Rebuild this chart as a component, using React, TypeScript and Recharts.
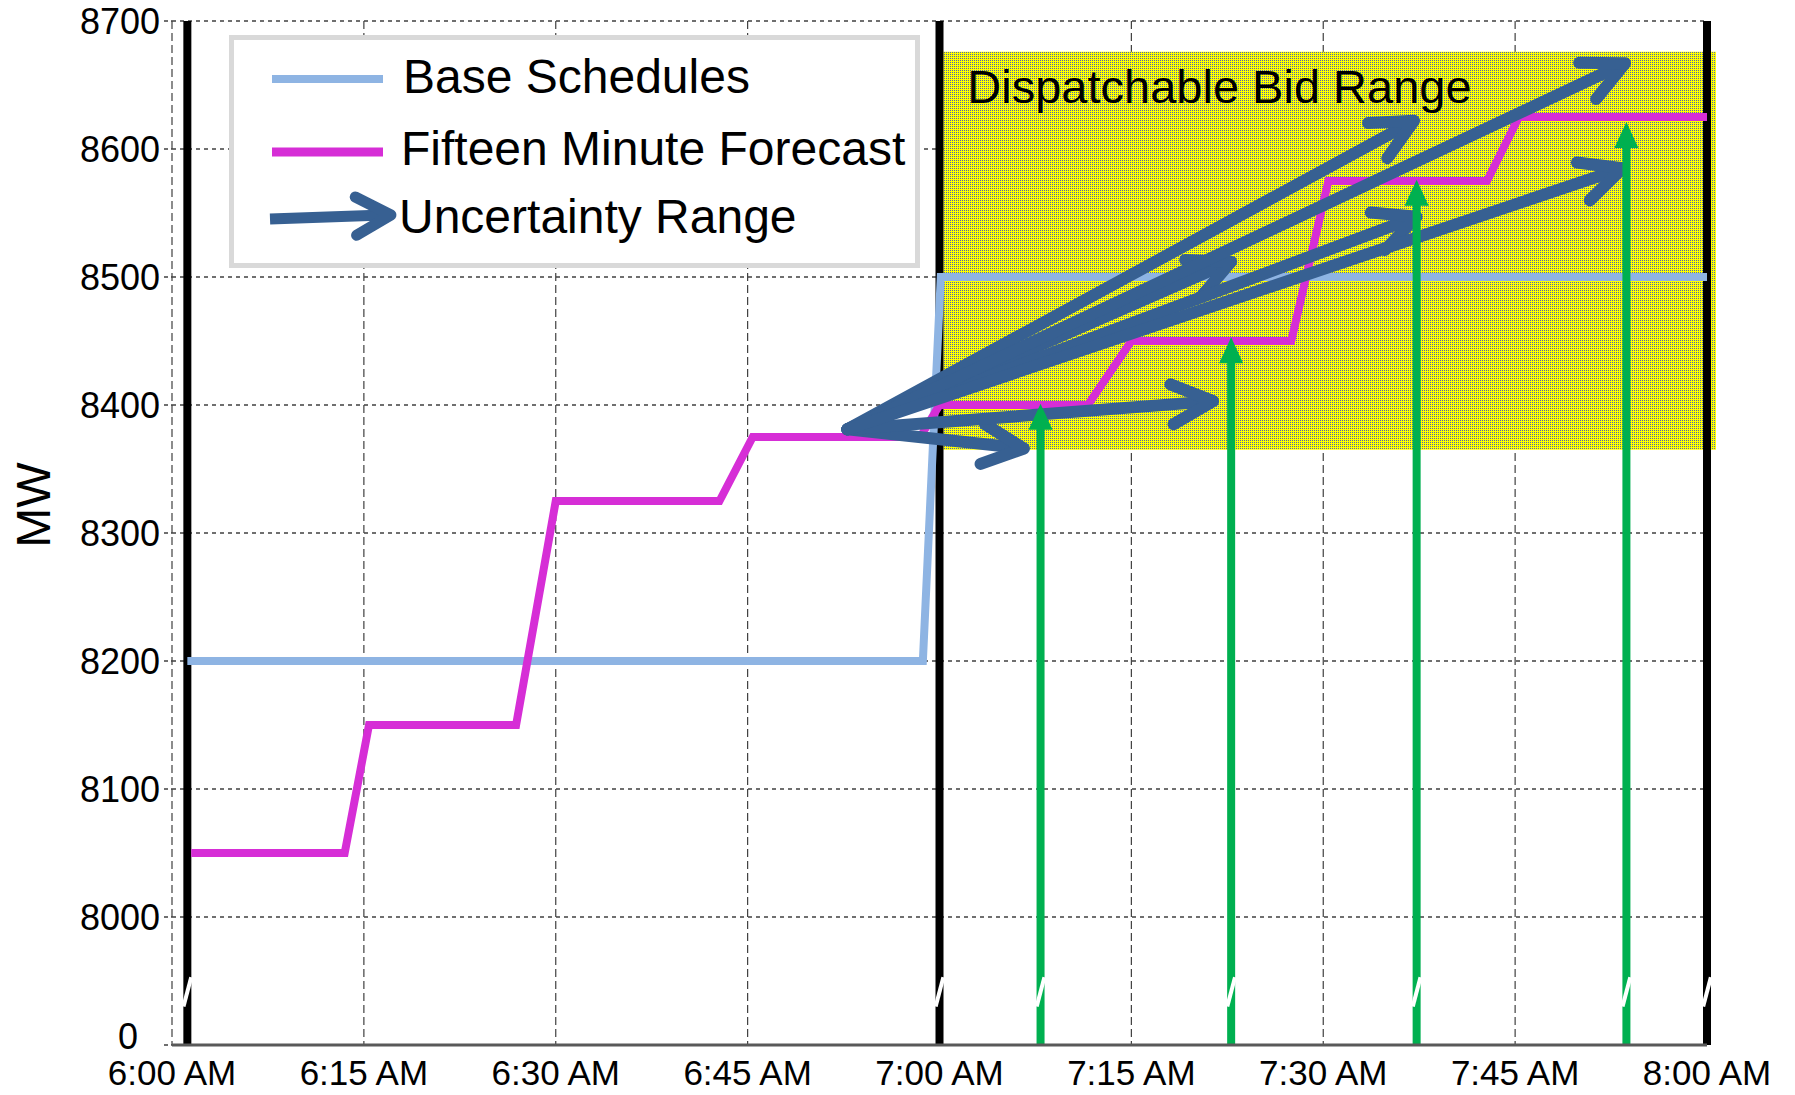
import React from "react";
import {
  CartesianGrid,
  ComposedChart,
  Label,
  Legend,
  Line,
  ReferenceArea,
  ReferenceLine,
  XAxis,
  YAxis,
} from "recharts";

// x values are minutes after 6:00 AM
const timeTicks = [0, 15, 30, 45, 60, 75, 90, 105, 120];
const timeLabels = ["6:00 AM", "6:15 AM", "6:30 AM", "6:45 AM", "7:00 AM", "7:15 AM", "7:30 AM", "7:45 AM", "8:00 AM"];

// the axis is broken: the bottom slot (7900) is labelled 0
const mwTicks = [7900, 8000, 8100, 8200, 8300, 8400, 8500, 8600, 8700];
const mwLabels = ["0", "8000", "8100", "8200", "8300", "8400", "8500", "8600", "8700"];
const axisFloor = 7900;
const breakMW = [7930, 7953];

const baseMinutes = [1.2, 58.7, 60.1, 120];
const baseMW = [8200, 8200, 8500, 8500];

const forecastMinutes = [1.5, 13.5, 15.4, 26.9, 30, 42.8, 45.4, 58.5, 60, 71.6, 75, 87.5, 90.4, 102.8, 105.3, 120];
const forecastMW = [8050, 8050, 8150, 8150, 8325, 8325, 8375, 8375, 8400, 8400, 8450, 8450, 8575, 8575, 8625, 8625];

const uncertaintyStart = { t: 52.8, mw: 8381 };
const uncertaintyTipMinutes = [66.6, 81.4, 82.8, 97.1, 97.3, 113.6, 113.4];
const uncertaintyTipMW = [8366, 8403, 8512, 8622, 8547, 8667, 8585];

const dispatchMinutes = [67.9, 82.8, 97.3, 113.7];
const dispatchMW = [8401, 8453, 8576, 8621];

const hourMarks = [1.2, 60, 120];
const bidRange = { t1: 60.3, t2: 120.7, low: 8365, high: 8676 };

const BASE = "#8EB4E3";
const FORECAST = "#D62ED6";
const ARROW = "#376092";
const GREEN = "#00B050";
const FONT = "'Liberation Sans', Arial, sans-serif";

const baseData = baseMinutes.map((t, i) => ({ t, mw: baseMW[i] }));
const forecastData = forecastMinutes.map((t, i) => ({ t, mw: forecastMW[i] }));

function chevron(x1: number, y1: number, x2: number, y2: number, len: number, spread: number) {
  const a = Math.atan2(y2 - y1, x2 - x1);
  const p1 = `${x2 - len * Math.cos(a - spread)},${y2 - len * Math.sin(a - spread)}`;
  const p2 = `${x2 - len * Math.cos(a + spread)},${y2 - len * Math.sin(a + spread)}`;
  return `${p1} ${x2},${y2} ${p2}`;
}

function UncertaintyArrow(props: any) {
  const { x1, y1, x2, y2 } = props;
  const a = Math.atan2(y2 - y1, x2 - x1);
  return (
    <g>
      <line
        x1={x1}
        y1={y1}
        x2={x2 - 6 * Math.cos(a)}
        y2={y2 - 6 * Math.sin(a)}
        stroke={ARROW}
        strokeWidth={12}
        strokeLinecap="round"
      />
      <polyline
        points={chevron(x1, y1, x2, y2, 46, 0.45)}
        fill="none"
        stroke={ARROW}
        strokeWidth={12}
        strokeLinecap="round"
        strokeLinejoin="round"
      />
    </g>
  );
}

function DispatchArrow(props: any) {
  const { x1, y1, x2, y2 } = props;
  const head = 26;
  const half = 12;
  return (
    <g>
      <line x1={x1} y1={y1} x2={x2} y2={y2 + head - 2} stroke={GREEN} strokeWidth={8} />
      <polygon points={`${x2},${y2} ${x2 - half},${y2 + head} ${x2 + half},${y2 + head}`} fill={GREEN} />
    </g>
  );
}

function MwTick(props: any) {
  const { x, y, payload } = props;
  const floor = payload.value === axisFloor;
  return (
    <text
      x={x - (floor ? 22 : 0)}
      y={y - (floor ? 9 : 0)}
      dy="0.355em"
      textAnchor="end"
      fontSize={36}
      fill="#000"
    >
      {mwLabels[mwTicks.indexOf(payload.value)]}
    </text>
  );
}

function BidLabel(props: any) {
  const { viewBox } = props;
  return (
    <text x={viewBox.x + 24} y={viewBox.y + 51} fontSize={47} fill="#000">
      Dispatchable Bid Range
    </text>
  );
}

function AxisTitle() {
  return (
    <text x={50} y={505} transform="rotate(-90 50 505)" textAnchor="middle" fontSize={48} fill="#000">
      MW
    </text>
  );
}

function LegendBox() {
  return (
    <div
      style={{
        width: 691,
        height: 233,
        boxSizing: "border-box",
        border: "5px solid #D9D9D9",
        background: "#fff",
        fontFamily: FONT,
      }}
    >
      <svg width={681} height={223} style={{ display: "block" }}>
        <line x1={38} y1={39} x2={149} y2={39} stroke={BASE} strokeWidth={8} />
        <text x={169} y={53} fontSize={48} fill="#000">
          Base Schedules
        </text>
        <line x1={38} y1={112} x2={149} y2={112} stroke={FORECAST} strokeWidth={9} />
        <text x={167} y={125} fontSize={48} fill="#000">
          Fifteen Minute Forecast
        </text>
        <line x1={36} y1={179} x2={150} y2={175} stroke={ARROW} strokeWidth={11} />
        <polyline
          points={chevron(36, 179, 157, 175, 40, 0.5)}
          fill="none"
          stroke={ARROW}
          strokeWidth={11}
          strokeLinecap="round"
          strokeLinejoin="round"
        />
        <text x={165} y={193} fontSize={48} fill="#000">
          Uncertainty Range
        </text>
      </svg>
    </div>
  );
}

const breakXs = [...hourMarks, ...dispatchMinutes];

export default function App() {
  return (
    <div
      style={{
        position: "absolute",
        left: 0,
        top: 0,
        width: 1795,
        height: 1095,
        background: "#fff",
        fontFamily: FONT,
      }}
    >
      <svg width={0} height={0} style={{ position: "absolute" }}>
        <defs>
          <pattern id="bidHatch" width={2} height={2} patternUnits="userSpaceOnUse">
            <rect width={2} height={2} fill="#FFFF00" />
            <rect width={1} height={1} fill="#4A6DB0" />
          </pattern>
        </defs>
      </svg>
      <ComposedChart width={1795} height={1095} margin={{ top: 21, right: 88, bottom: 0, left: 0 }}>
        <CartesianGrid horizontal={false} stroke="#404040" strokeWidth={1.2} strokeDasharray="8 4" />
        <CartesianGrid vertical={false} stroke="#404040" strokeWidth={1.6} strokeDasharray="4 4" />
        <XAxis
          type="number"
          dataKey="t"
          domain={[0, 120]}
          ticks={timeTicks}
          interval={0}
          height={50}
          axisLine={{ stroke: "#595959", strokeWidth: 3 }}
          tickLine={false}
          tickSize={0}
          tickMargin={15}
          tick={{ fontSize: 35, fill: "#000" }}
          tickFormatter={(v: number) => timeLabels[timeTicks.indexOf(v)]}
          allowDataOverflow
        />
        <YAxis
          type="number"
          dataKey="mw"
          domain={[axisFloor, 8700]}
          ticks={mwTicks}
          interval={0}
          width={172}
          axisLine={false}
          tickLine={{ stroke: "#404040", strokeDasharray: "4 3", strokeWidth: 1.5 }}
          tickSize={8}
          tickMargin={4}
          tick={<MwTick />}
          allowDataOverflow
        >
          <Label content={<AxisTitle />} />
        </YAxis>
        <Legend
          layout="horizontal"
          verticalAlign="middle"
          align="center"
          wrapperStyle={{ top: 35, left: 229, width: 691, height: 233 }}
          content={() => <LegendBox />}
        />
        <ReferenceArea
          x1={bidRange.t1}
          x2={bidRange.t2}
          y1={bidRange.low}
          y2={bidRange.high}
          fill="url(#bidHatch)"
          fillOpacity={1}
          stroke="none"
          ifOverflow="visible"
          zIndex={-50}
          label={<BidLabel />}
        />
        {hourMarks.map((t) => (
          <ReferenceLine key={`h${t}`} x={t} stroke="#000" strokeWidth={8} ifOverflow="visible" zIndex={-40} />
        ))}
        <Line
          data={baseData}
          dataKey="mw"
          name="Base Schedules"
          stroke={BASE}
          strokeWidth={8}
          dot={false}
          activeDot={false}
          isAnimationActive={false}
        />
        <Line
          data={forecastData}
          dataKey="mw"
          name="Fifteen Minute Forecast"
          stroke={FORECAST}
          strokeWidth={8}
          dot={false}
          activeDot={false}
          isAnimationActive={false}
        />
        {uncertaintyTipMinutes.map((t, i) => (
          <ReferenceLine
            key={`u${i}`}
            segment={[
              { x: uncertaintyStart.t, y: uncertaintyStart.mw },
              { x: t, y: uncertaintyTipMW[i] },
            ]}
            shape={UncertaintyArrow}
            ifOverflow="visible"
            zIndex={450}
          />
        ))}
        {dispatchMinutes.map((t, i) => (
          <ReferenceLine
            key={`d${i}`}
            segment={[
              { x: t, y: axisFloor },
              { x: t, y: dispatchMW[i] },
            ]}
            shape={DispatchArrow}
            ifOverflow="visible"
            zIndex={460}
          />
        ))}
        {breakXs.map((t, i) => (
          <ReferenceLine
            key={`b${i}`}
            segment={[
              { x: t - 0.3, y: breakMW[0] },
              { x: t + 0.3, y: breakMW[1] },
            ]}
            stroke="#fff"
            strokeWidth={4}
            ifOverflow="visible"
            zIndex={470}
          />
        ))}
      </ComposedChart>
    </div>
  );
}
